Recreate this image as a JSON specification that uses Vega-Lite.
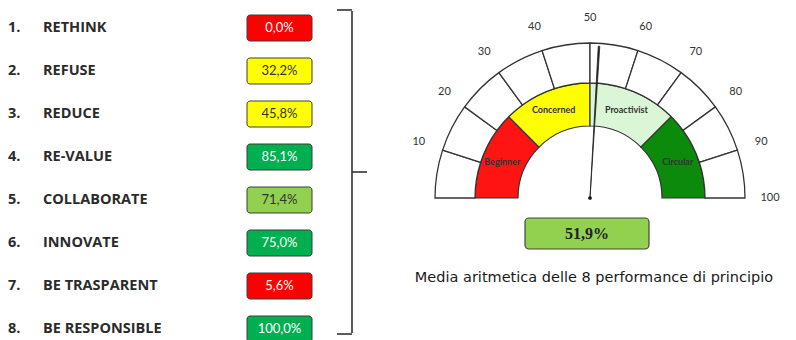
{
  "$schema": "https://vega.github.io/schema/vega-lite/v6.json",
  "width": 796,
  "height": 340,
  "padding": 0,
  "autosize": {"type": "none"},
  "background": "white",
  "config": {"view": {"stroke": null}},
  "datasets": {
    "items": [
      {"n": 1, "name": "RETHINK", "v": 0.0},
      {"n": 2, "name": "REFUSE", "v": 32.2},
      {"n": 3, "name": "REDUCE", "v": 45.8},
      {"n": 4, "name": "RE-VALUE", "v": 85.1},
      {"n": 5, "name": "COLLABORATE", "v": 71.4},
      {"n": 6, "name": "INNOVATE", "v": 75.0},
      {"n": 7, "name": "BE TRASPARENT", "v": 5.6},
      {"n": 8, "name": "BE RESPONSIBLE", "v": 100.0}
    ],
    "ring": [
      {"lo": 0, "hi": 10}, {"lo": 10, "hi": 20}, {"lo": 20, "hi": 30}, {"lo": 30, "hi": 40}, {"lo": 40, "hi": 50},
      {"lo": 50, "hi": 60}, {"lo": 60, "hi": 70}, {"lo": 70, "hi": 80}, {"lo": 80, "hi": 90}, {"lo": 90, "hi": 100}
    ],
    "zones": [
      {"zone": "Beginner", "lo": 0, "hi": 25},
      {"zone": "Concerned", "lo": 25, "hi": 50},
      {"zone": "Proactivist", "lo": 50, "hi": 75},
      {"zone": "Circular", "lo": 75, "hi": 100}
    ]
  },
  "resolve": {"scale": {"y": "independent"}},
  "layer": [
    {
      "data": {"name": "items"},
      "transform": [
        {"calculate": "datum.n + '.'", "as": "num"},
        {"calculate": "replace(format(datum.v, '.1f'), '.', ',') + '%'", "as": "lbl"}
      ],
      "encoding": {
        "y": {"field": "n", "type": "ordinal", "scale": {"type": "point", "padding": 0, "range": [28, 329]}, "axis": null}
      },
      "layer": [
        {
          "mark": {"type": "text", "align": "left", "baseline": "middle", "font": "Open Sans", "fontWeight": "bold", "fontSize": 14.5, "color": "#2b2b2b"},
          "encoding": {
            "x": {"datum": 8, "type": "quantitative", "scale": {"domain": [0, 796], "nice": false, "zero": false}, "axis": null},
            "text": {"field": "num"}
          }
        },
        {
          "mark": {"type": "text", "align": "left", "baseline": "middle", "font": "Open Sans", "fontWeight": "bold", "fontSize": 14.5, "color": "#2b2b2b"},
          "encoding": {
            "x": {"datum": 43, "type": "quantitative", "scale": {"domain": [0, 796], "nice": false, "zero": false}, "axis": null},
            "text": {"field": "name"}
          }
        },
        {
          "mark": {"type": "rect", "height": 26, "cornerRadius": 3, "stroke": "#3d3d3d", "strokeWidth": 1},
          "encoding": {
            "x": {"datum": 247, "type": "quantitative", "scale": {"domain": [0, 796], "nice": false, "zero": false}, "axis": null},
            "x2": {"datum": 312},
            "fill": {"field": "v", "type": "quantitative", "scale": {"type": "threshold", "domain": [25, 50, 75], "range": ["#ff0000", "#ffff00", "#92d050", "#00b050"]}, "legend": null}
          }
        },
        {
          "mark": {"type": "text", "align": "center", "baseline": "middle", "font": "Lato", "fontSize": 13},
          "encoding": {
            "x": {"datum": 279.5, "type": "quantitative", "scale": {"domain": [0, 796], "nice": false, "zero": false}, "axis": null},
            "text": {"field": "lbl"},
            "color": {"condition": {"test": "datum.v < 25 || datum.v >= 75", "value": "#ffffff"}, "value": "#333333"}
          }
        }
      ]
    },
    {
      "layer": [
        {
          "data": {"name": "zones"},
          "mark": {"type": "arc", "radius": 115, "radius2": 72, "stroke": "#333333", "strokeWidth": 1.2},
          "encoding": {
            "x": {"datum": 590, "type": "quantitative", "scale": {"domain": [0, 796], "nice": false, "zero": false}, "axis": null},
            "y": {"datum": 198, "type": "quantitative", "scale": {"domain": [0, 340], "reverse": true, "nice": false, "zero": false}, "axis": null},
            "theta": {"field": "lo", "type": "quantitative", "stack": null, "scale": {"domain": [0, 100], "range": [-1.5708, 1.5708]}},
            "theta2": {"field": "hi"},
            "color": {"field": "zone", "type": "nominal", "scale": {"domain": ["Beginner", "Concerned", "Proactivist", "Circular"], "range": ["#ff1414", "#ffff00", "#dbf6d7", "#0b8a0b"]}, "legend": null}
          }
        },
        {
          "data": {"name": "ring"},
          "mark": {"type": "arc", "radius": 155, "radius2": 115, "fill": "#ffffff", "stroke": "#333333", "strokeWidth": 1.3},
          "encoding": {
            "x": {"datum": 590, "type": "quantitative"},
            "y": {"datum": 198, "type": "quantitative"},
            "theta": {"field": "lo", "type": "quantitative", "stack": null},
            "theta2": {"field": "hi"}
          }
        },
        {
          "data": {"name": "zones"},
          "transform": [{"calculate": "(datum.lo + datum.hi) / 2", "as": "mid"}],
          "mark": {"type": "text", "radius": 95, "align": "center", "baseline": "middle", "font": "Lato", "fontWeight": "bold", "fontSize": 9, "color": "#333333"},
          "encoding": {
            "x": {"datum": 590, "type": "quantitative"},
            "y": {"datum": 198, "type": "quantitative"},
            "theta": {"field": "mid", "type": "quantitative", "stack": null},
            "text": {"field": "zone"}
          }
        },
        {
          "data": {"name": "ring"},
          "mark": {"type": "text", "radius": 180, "align": "center", "baseline": "middle", "font": "Lato", "fontSize": 11, "color": "#333333"},
          "encoding": {
            "x": {"datum": 590, "type": "quantitative"},
            "y": {"datum": 198, "type": "quantitative"},
            "theta": {"field": "hi", "type": "quantitative", "stack": null},
            "text": {"field": "hi"}
          }
        },
        {
          "data": {"name": "items"},
          "transform": [{"aggregate": [{"op": "mean", "field": "v", "as": "m"}]}],
          "mark": {"type": "arc", "radius": 152, "radius2": 0, "thetaOffset": -0.005, "theta2Offset": 0.005, "fill": "#222222", "stroke": "#222222", "strokeWidth": 0.8},
          "encoding": {
            "x": {"datum": 590, "type": "quantitative"},
            "y": {"datum": 198, "type": "quantitative"},
            "theta": {"field": "m", "type": "quantitative", "stack": null},
            "theta2": {"field": "m"}
          }
        },
        {
          "data": {"values": [{}]},
          "mark": {"type": "point", "filled": true, "size": 14, "color": "#111111", "opacity": 1},
          "encoding": {
            "x": {"datum": 590, "type": "quantitative"},
            "y": {"datum": 198, "type": "quantitative"}
          }
        },
        {
          "data": {"name": "items"},
          "transform": [
            {"aggregate": [{"op": "mean", "field": "v", "as": "m"}]},
            {"calculate": "replace(format(datum.m, '.1f'), '.', ',') + '%'", "as": "txt"}
          ],
          "layer": [
            {
              "mark": {"type": "rect", "cornerRadius": 4, "stroke": "#444444", "strokeWidth": 1.2},
              "encoding": {
                "x": {"datum": 525, "type": "quantitative"},
                "x2": {"datum": 649},
                "y": {"datum": 218, "type": "quantitative"},
                "y2": {"datum": 249},
                "fill": {"field": "m", "type": "quantitative", "scale": {"type": "threshold", "domain": [25, 50, 75], "range": ["#ff0000", "#ffff00", "#92d050", "#00b050"]}, "legend": null}
              }
            },
            {
              "mark": {"type": "text", "align": "center", "baseline": "middle", "font": "Liberation Serif", "fontWeight": "bold", "fontSize": 16, "color": "#222222"},
              "encoding": {
                "x": {"datum": 587, "type": "quantitative"},
                "y": {"datum": 234, "type": "quantitative"},
                "text": {"field": "txt"}
              }
            }
          ]
        },
        {
          "data": {"values": [{}]},
          "mark": {"type": "text", "align": "center", "baseline": "middle", "font": "DejaVu Sans", "fontSize": 14.5, "color": "#1a1a1a"},
          "encoding": {
            "x": {"datum": 594, "type": "quantitative"},
            "y": {"datum": 278, "type": "quantitative"},
            "text": {"value": "Media aritmetica delle 8 performance di principio"}
          }
        },
        {
          "data": {"values": [{}]},
          "mark": {"type": "rule", "color": "#333333", "strokeWidth": 1.6},
          "encoding": {
            "x": {"datum": 352, "type": "quantitative"},
            "y": {"datum": 11, "type": "quantitative"},
            "y2": {"datum": 333}
          }
        },
        {
          "data": {"values": [{}]},
          "mark": {"type": "rule", "color": "#333333", "strokeWidth": 1.6},
          "encoding": {
            "x": {"datum": 337, "type": "quantitative"},
            "x2": {"datum": 352},
            "y": {"datum": 10, "type": "quantitative"}
          }
        },
        {
          "data": {"values": [{}]},
          "mark": {"type": "rule", "color": "#333333", "strokeWidth": 1.6},
          "encoding": {
            "x": {"datum": 337, "type": "quantitative"},
            "x2": {"datum": 352},
            "y": {"datum": 334, "type": "quantitative"}
          }
        },
        {
          "data": {"values": [{}]},
          "mark": {"type": "rule", "color": "#333333", "strokeWidth": 1.6},
          "encoding": {
            "x": {"datum": 352, "type": "quantitative"},
            "x2": {"datum": 367},
            "y": {"datum": 172, "type": "quantitative"}
          }
        }
      ]
    }
  ]
}
